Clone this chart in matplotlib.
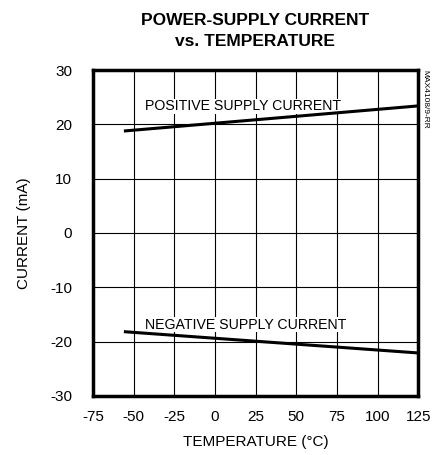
import numpy as np
import matplotlib
matplotlib.use("Agg")
import matplotlib.pyplot as plt

plt.rcParams['font.family'] = ['Liberation Sans', 'DejaVu Sans']
plt.rcParams['axes.unicode_minus'] = False

# supply current endpoints read across the temperature range
temp = [-55, 125]
pos_current = [18.8, 23.4]
neg_current = [-18.2, -22.1]

xticks = [-75, -50, -25, 0, 25, 50, 75, 100, 125]
yticks = [-30, -20, -10, 0, 10, 20, 30]


def main():
    fig = plt.figure(figsize=(4.32, 4.55), dpi=100)
    ax = fig.add_axes([0.215, 0.130, 0.753, 0.716])

    ax.plot(temp, pos_current, color="black", lw=2.2, zorder=3)
    ax.plot(temp, neg_current, color="black", lw=2.2, zorder=3)

    ax.set_xlim(-75, 125)
    ax.set_ylim(-30, 30)
    ax.set_xticks(xticks)
    ax.set_yticks(yticks)
    ax.tick_params(length=0, labelsize=11)
    ax.tick_params(axis="x", pad=10)
    ax.tick_params(axis="y", pad=15)
    ax.grid(True, color="black", lw=0.8)
    for sp in ax.spines.values():
        sp.set_linewidth(2.5)

    ax.text(-43, 23.3, "POSITIVE SUPPLY CURRENT", fontsize=10.2, va="center",
            bbox=dict(facecolor="white", edgecolor="none", pad=0.5), zorder=2)
    ax.text(-43, -16.9, "NEGATIVE SUPPLY CURRENT", fontsize=10.2, va="center",
            bbox=dict(facecolor="white", edgecolor="none", pad=0.5), zorder=2)

    ax.set_xlabel("TEMPERATURE (°C)", fontsize=11, labelpad=8)
    ax.set_ylabel("CURRENT (mA)", fontsize=11, labelpad=14)
    fig.text(0.59, 0.932, "POWER-SUPPLY CURRENT\nvs. TEMPERATURE", fontsize=12.5,
             fontweight="bold", ha="center", va="center", linespacing=1.5)
    fig.text(0.984, 0.846, "MAX4108/9-RR", rotation=270, fontsize=6,
             ha="center", va="top")

    fig.savefig("out.png", dpi=100)


if __name__ == "__main__":
    main()
